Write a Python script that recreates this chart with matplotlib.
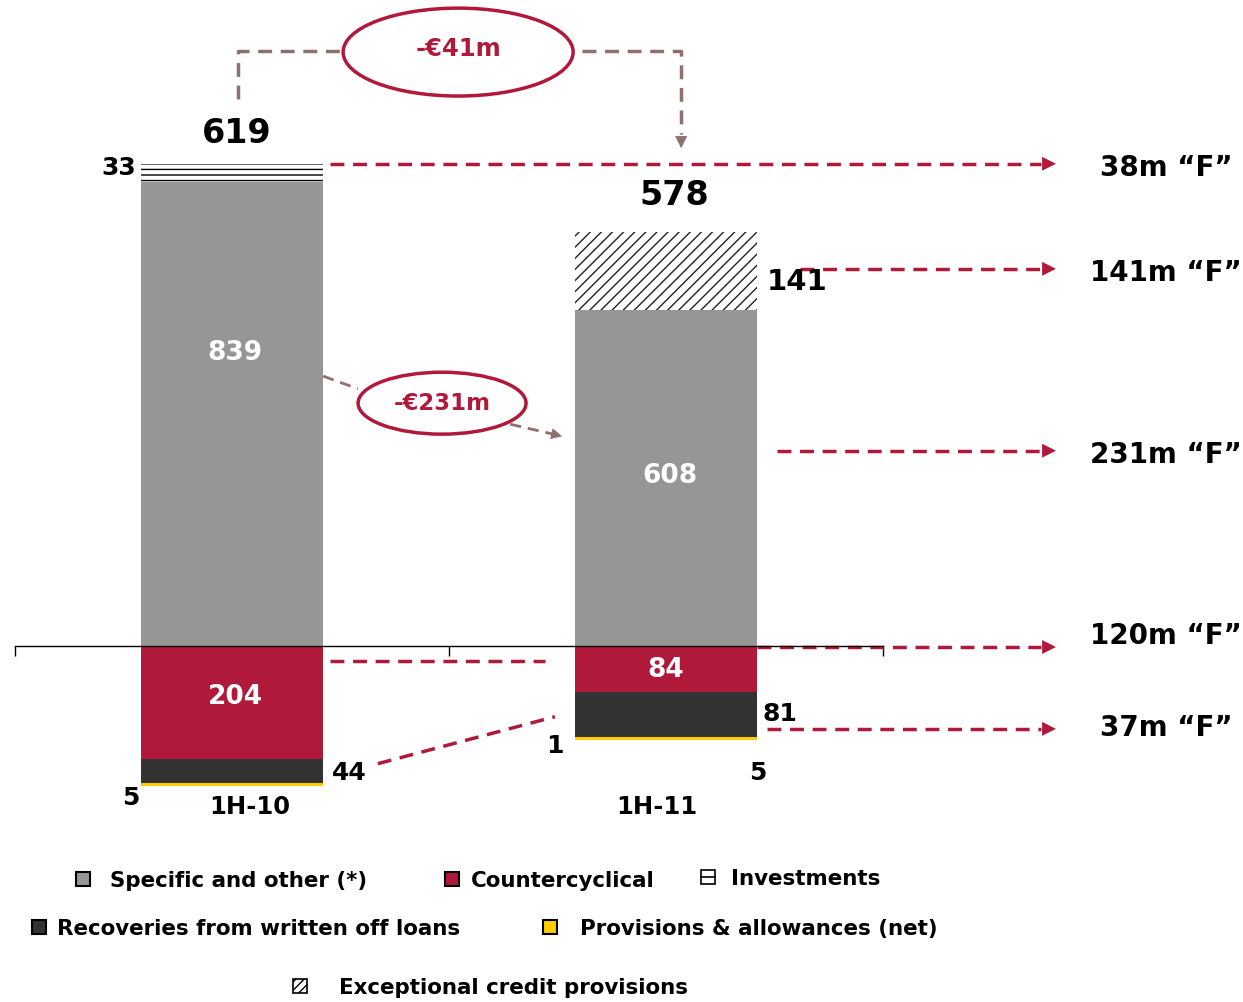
"""
loan loss provisions bridge 1H-10 vs 1H-11
"""

import matplotlib
matplotlib.use('Agg')
import matplotlib.pyplot as plt
from matplotlib.patches import Rectangle, Ellipse

plt.rcParams['font.family'] = ['DejaVu Sans']
plt.rcParams['hatch.linewidth'] = 1.0

categories = ['1H-10', '1H-11']
specific = [839, 608]
investments = [33, 0]
exceptional = [0, 141]
countercyclical = [-204, -84]
recoveries = [-44, -81]
provisions = [-5, -5]
totals = [619, 578]

fLabels = ['38m \u201cF\u201d', '141m \u201cF\u201d', '231m \u201cF\u201d', '120m \u201cF\u201d', '37m \u201cF\u201d']
bridgeLabels = ['-\u20ac41m', '-\u20ac231m']

gray = '#969696'
red = '#B0193A'
dark = '#333333'
yellow = '#FFCC00'
brown = '#8E706E'

W, H = 1243, 1003
fig = plt.figure(figsize=(W / 100, H / 100), dpi=100)
ax = fig.add_axes([15 / W, 0, 868 / W, 1])
ax.set_xlim(-0.5, 1.5)
ax.set_ylim(-644, 1170)

x = [0, 1]
bw = 0.42
ax.bar(x, specific, bw, color=gray, zorder=1)
ax.bar(x, investments, bw, bottom=specific, color='white', edgecolor='black',
       hatch='---', linewidth=0, zorder=1)
ax.bar(x, exceptional, bw, bottom=specific, color='white', edgecolor='#222222',
       hatch='///', linewidth=0, zorder=1)
ax.bar(x, countercyclical, bw, color=red, zorder=1)
negBottom = [c + r for c, r in zip(countercyclical, recoveries)]
ax.bar(x, recoveries, bw, bottom=countercyclical, color=dark, zorder=1)
ax.bar(x, provisions, bw, bottom=negBottom, color=yellow, zorder=1)

# axis line only
for s in ['left', 'right', 'top']:
    ax.spines[s].set_visible(False)
ax.spines['bottom'].set_position(('data', 0))
ax.spines['bottom'].set_linewidth(1)
ax.set_xticks([-0.5, 0.5, 1.5])
ax.set_xticklabels([])
ax.tick_params(axis='x', direction='out', length=7, width=1)
ax.set_yticks([])

bold = dict(fontweight='bold', ha='center', va='center')

# totals
ax.text(0.01, 928, str(totals[0]), fontsize=24, **bold)
ax.text(1.02, 817, str(totals[1]), fontsize=24, **bold)

# segment labels
ax.text(-0.26, 866, str(investments[0]), fontsize=18, **bold)
ax.text(0.007, 532, str(specific[0]), fontsize=19, color='white', **bold)
ax.text(1.009, 309, str(specific[1]), fontsize=19, color='white', **bold)
ax.text(1.302, 660, str(exceptional[1]), fontsize=21, **bold)
ax.text(0.007, -90, str(-countercyclical[0]), fontsize=19, color='white', **bold)
ax.text(1.0, -42, str(-countercyclical[1]), fontsize=19, color='white', **bold)
ax.text(0.27, -228, str(-recoveries[0]), fontsize=18, **bold)
ax.text(1.263, -121, str(-recoveries[1]), fontsize=18, **bold)
ax.text(-0.233, -273, str(-provisions[0]), fontsize=18, **bold)
ax.text(1.212, -228, str(-provisions[1]), fontsize=18, **bold)
ax.text(0.744, -179, '1', fontsize=18, **bold)

ax.text(0.041, -290, categories[0], fontsize=17.5, **bold)
ax.text(0.979, -290, categories[1], fontsize=17.5, **bold)

# right hand "F" labels with red dashed arrows
arrowRows = [(0.226, 872), (1.309, 682), (1.256, 353), (1.210, -2), (1.233, -150)]
labelY = [866, 676, 347, 20, -146]
for (x0, yy), ly, lab in zip(arrowRows, labelY, fLabels):
    ax.plot([x0, 1.865], [yy, yy], color=red, lw=2.5, ls=(0, (4, 2.5)), clip_on=False)
    ax.annotate('', xy=(1.905, yy), xytext=(1.865, yy),
                arrowprops=dict(arrowstyle='-|>', color=red, lw=0, mutation_scale=25),
                annotation_clip=False)
    ax.text(2.152, ly, lab, fontsize=20, clip_on=False, **bold)

ax.plot([0.226, 0.721], [-27, -27], color=red, lw=2.5, ls=(0, (4, 2.5)), clip_on=False)
ax.plot([0.336, 0.744], [-213, -128], color=red, lw=2.5, ls=(0, (4, 2.5)), clip_on=False)

# -41m bridge on top
ax.plot([0.014, 0.014, 0.260], [989, 1076, 1076], color=brown, lw=2.5, ls=(0, (4, 2.5)), clip_on=False)
ax.plot([0.806, 1.035, 1.035], [1076, 1076, 925], color=brown, lw=2.5, ls=(0, (4, 2.5)), clip_on=False)
ax.annotate('', xy=(1.035, 895), xytext=(1.035, 925),
            arrowprops=dict(arrowstyle='-|>', color=brown, lw=0, mutation_scale=22),
            annotation_clip=False)
ax.add_patch(Ellipse((0.521, 1074), 0.530, 159, facecolor='white', edgecolor=red, lw=2.5, zorder=3))
ax.text(0.521, 1082, bridgeLabels[0], fontsize=17.5, color=red, zorder=4, **bold)

# -231m bridge between the bars
ax.plot([0.210, 0.290], [488, 465], color=brown, lw=2, ls=(0, (4, 2.5)))
ax.plot([0.641, 0.740], [401, 383], color=brown, lw=2, ls=(0, (4, 2.5)))
ax.annotate('', xy=(0.767, 378), xytext=(0.735, 384),
            arrowprops=dict(arrowstyle='-|>', color=brown, lw=0, mutation_scale=20))
ax.add_patch(Ellipse((0.484, 439), 0.387, 112, facecolor='white', edgecolor=red, lw=2.5, zorder=3))
ax.text(0.484, 441, bridgeLabels[1], fontsize=16.5, color=red, zorder=4, **bold)

# legend drawn by hand in pixel space
lg = fig.add_axes([0, 0, 1, 1])
lg.set_xlim(0, W)
lg.set_ylim(H, 0)
lg.axis('off')
legendItems = [
    ('Specific and other (*)', gray, None, 83, 880, 110),
    ('Countercyclical', red, None, 452, 880, 471),
    ('Investments', 'white', 'inv', 708, 878, 731),
    ('Recoveries from written off loans', dark, None, 39, 928, 57),
    ('Provisions & allowances (net)', yellow, None, 550, 928, 580),
    ('Exceptional credit provisions', 'white', '////', 300, 987, 339),
]
for label, col, kind, cx, cy, tx in legendItems:
    s = 14
    if kind == 'inv':
        lg.add_patch(Rectangle((cx - s / 2, cy - s / 2), s, s, facecolor='white', edgecolor='black', lw=1.2))
        lg.plot([cx - s / 2, cx + s / 2], [cy, cy], color='black', lw=1.2)
    elif kind is not None:
        lg.add_patch(Rectangle((cx - s / 2, cy - s / 2), s, s, facecolor='white', edgecolor='black',
                               hatch=kind, lw=1.2))
    else:
        lg.add_patch(Rectangle((cx - s / 2, cy - s / 2), s, s, facecolor=col, edgecolor='black', lw=1.5))
    lg.text(tx, cy + 1, label, fontsize=15.4, fontweight='bold', ha='left', va='center')

fig.savefig('out.png', dpi=100)
